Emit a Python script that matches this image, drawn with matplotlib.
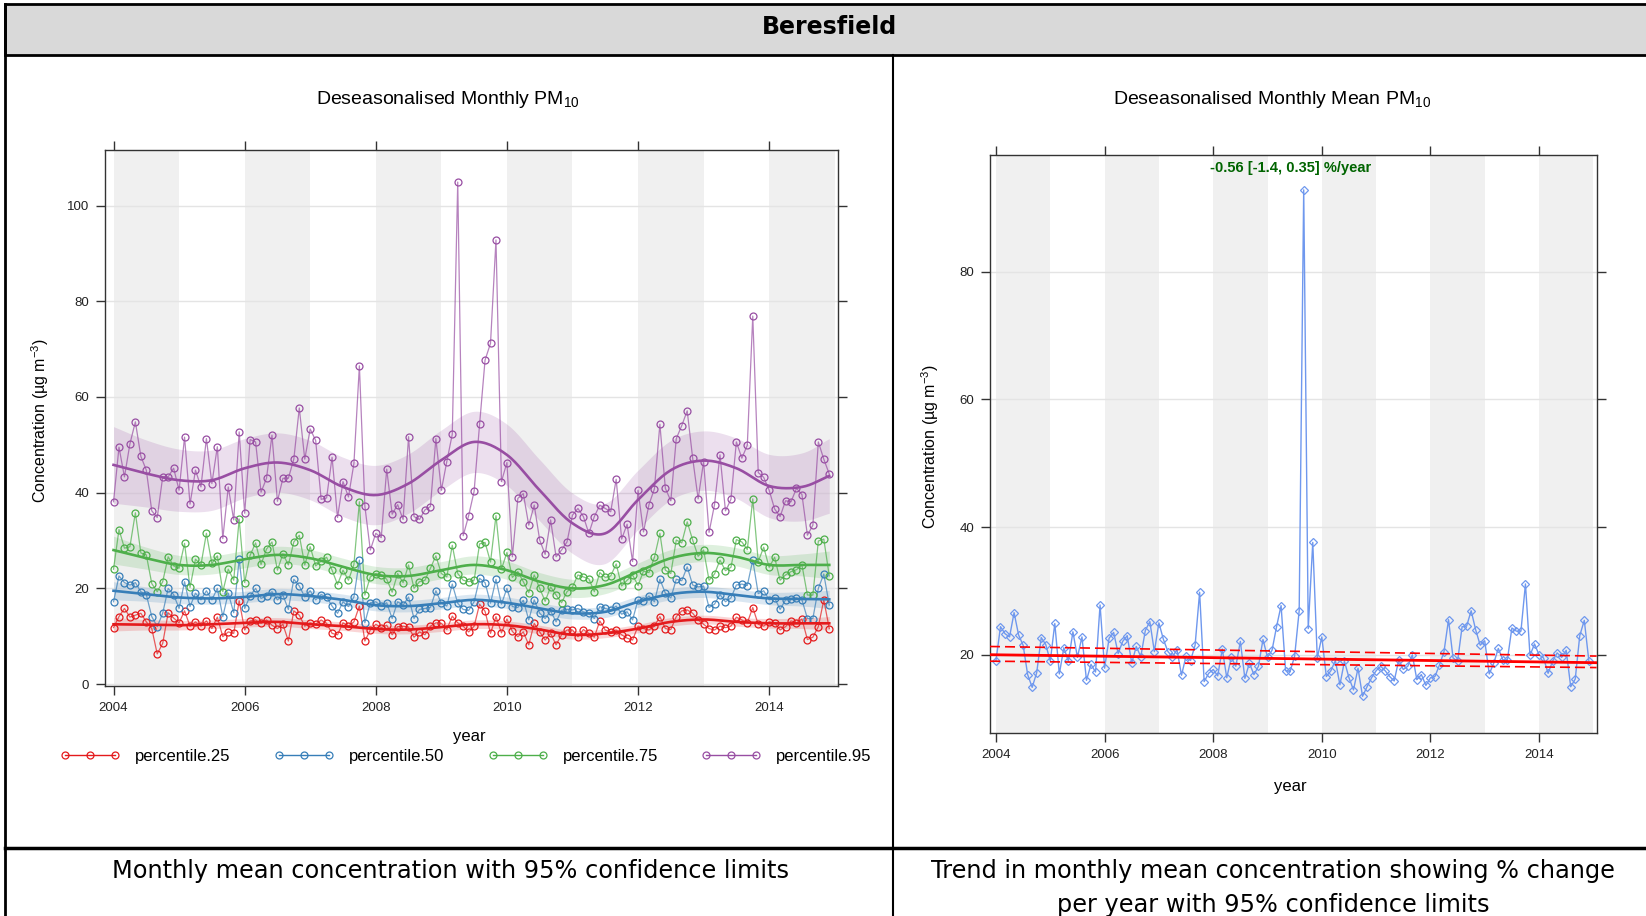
import numpy as np
import matplotlib
matplotlib.use("Agg")
import matplotlib.pyplot as plt
from matplotlib.patches import Rectangle
from matplotlib.lines import Line2D

# ---------------- data ----------------
start_year = 2004
n_months = 132

p25 = [11.8, 14.1, 15.8, 14.0, 14.4, 14.8, 13.0, 11.6, 6.3, 8.5, 14.9, 13.8,
       12.8, 15.3, 12.1, 13.0, 12.1, 13.2, 11.6, 14.0, 9.9, 10.9, 10.6, 17.4,
       11.3, 13.2, 13.4, 12.7, 13.4, 12.3, 11.6, 12.5, 9.0, 15.3, 14.4, 12.1,
       12.8, 12.5, 13.4, 12.7, 10.6, 10.3, 12.8, 12.1, 13.0, 16.3, 9.0, 11.3,
       12.5, 11.8, 12.3, 10.3, 12.0, 12.1, 11.9, 9.8, 10.9, 10.3, 12.1, 12.8,
       12.7, 11.4, 14.2, 12.8, 12.1, 10.9, 12.1, 16.7, 15.2, 10.6, 14.1, 10.7,
       13.6, 11.0, 9.9, 10.9, 8.2, 12.7, 10.9, 9.2, 10.6, 8.2, 10.3, 11.3,
       11.3, 9.9, 11.4, 10.6, 9.8, 13.2, 11.3, 10.9, 11.3, 10.3, 9.6, 9.2,
       12.1, 11.6, 11.3, 12.1, 14.1, 11.6, 11.4, 14.1, 15.3, 15.5, 14.8, 13.4,
       12.5, 11.6, 11.3, 12.1, 11.8, 12.1, 14.0, 13.4, 12.8, 16.0, 12.5, 12.1,
       13.0, 12.8, 11.3, 12.0, 13.2, 12.8, 13.6, 9.3, 9.8, 12.0, 17.6, 11.6]

p50 = [17.2, 22.6, 21.2, 20.7, 21.2, 19.3, 18.7, 14.1, 12.0, 14.8, 20.0, 18.7,
       15.8, 21.4, 16.2, 19.0, 17.6, 19.5, 17.6, 20.0, 14.1, 19.0, 14.9, 26.1,
       15.8, 18.4, 20.0, 17.9, 18.4, 19.3, 17.6, 18.6, 15.6, 21.9, 20.5, 18.2,
       19.5, 17.6, 18.7, 18.2, 16.3, 14.8, 17.2, 16.2, 18.2, 25.9, 12.8, 17.0,
       17.2, 16.3, 17.0, 13.7, 17.2, 16.5, 18.2, 13.7, 15.6, 15.8, 16.0, 19.5,
       16.9, 16.3, 20.9, 16.9, 15.6, 15.4, 17.2, 22.1, 21.2, 16.9, 21.9, 16.7,
       20.0, 16.2, 16.0, 17.5, 13.4, 17.6, 14.8, 13.7, 15.3, 13.0, 15.4, 15.6,
       15.5, 15.8, 15.1, 14.8, 13.7, 16.2, 15.8, 15.5, 16.3, 14.6, 15.1, 13.4,
       17.6, 17.4, 18.4, 17.2, 21.9, 19.0, 18.0, 21.9, 21.6, 24.5, 20.7, 20.3,
       20.5, 16.0, 16.7, 18.7, 17.2, 18.0, 20.7, 20.9, 20.6, 25.9, 18.9, 19.5,
       17.6, 18.0, 15.6, 17.6, 17.8, 18.0, 17.6, 13.7, 13.7, 20.0, 23.0, 16.5]

p75 = [24.0, 32.3, 28.4, 28.7, 35.8, 27.4, 27.0, 21.0, 19.3, 21.4, 26.6, 24.7,
       24.2, 29.4, 20.2, 26.1, 24.9, 31.5, 25.2, 26.8, 19.3, 24.0, 21.7, 34.5,
       21.2, 26.9, 29.5, 25.0, 28.2, 29.7, 23.8, 27.2, 24.9, 29.7, 31.1, 24.9,
       28.7, 24.7, 25.7, 26.5, 23.8, 20.8, 23.8, 21.7, 25.0, 38.1, 18.6, 22.4,
       23.1, 22.8, 21.9, 19.2, 23.1, 21.2, 24.9, 20.0, 21.4, 21.7, 24.2, 26.8,
       23.1, 22.4, 29.0, 23.1, 21.7, 21.4, 21.7, 29.3, 29.6, 25.5, 35.2, 24.0,
       27.5, 22.3, 23.5, 21.4, 19.1, 22.8, 20.0, 17.3, 20.3, 18.6, 17.0, 19.3,
       20.3, 22.8, 22.4, 22.0, 19.3, 23.3, 22.3, 22.6, 25.1, 20.5, 21.7, 22.8,
       20.6, 23.6, 23.3, 26.5, 31.5, 23.8, 23.1, 30.1, 29.5, 33.9, 30.1, 26.7,
       28.0, 21.7, 23.0, 25.9, 23.7, 24.4, 30.2, 29.7, 28.1, 38.7, 25.6, 28.6,
       24.4, 26.5, 21.7, 22.8, 23.5, 23.9, 24.9, 18.6, 18.6, 29.9, 30.3, 22.6]

p95 = [38.1, 49.5, 43.3, 50.2, 54.8, 47.6, 44.7, 36.2, 34.8, 43.3, 43.3, 45.1,
       40.5, 51.6, 37.6, 44.7, 41.2, 51.3, 41.9, 49.6, 30.4, 41.2, 34.3, 52.7,
       35.7, 51.1, 50.6, 40.1, 43.0, 52.0, 38.2, 43.0, 43.0, 47.0, 57.7, 47.0,
       53.3, 50.9, 38.6, 38.9, 47.4, 34.8, 42.3, 39.1, 46.1, 66.5, 37.2, 28.0,
       31.5, 30.6, 44.9, 35.5, 37.5, 34.4, 51.7, 35.0, 34.4, 36.4, 37.1, 51.3,
       40.5, 46.5, 52.2, 104.9, 31.0, 35.2, 40.3, 54.3, 67.7, 71.2, 92.8, 42.3,
       46.3, 26.6, 38.8, 39.8, 33.2, 37.4, 30.1, 27.1, 34.3, 26.6, 28.0, 29.7,
       35.3, 36.7, 35.0, 31.5, 35.0, 37.4, 36.7, 36.0, 42.8, 30.3, 33.4, 25.6,
       40.5, 31.8, 37.5, 40.8, 54.3, 40.9, 38.3, 51.3, 54.0, 57.1, 47.2, 38.7,
       46.5, 31.7, 37.5, 47.9, 36.2, 38.6, 50.6, 47.2, 49.9, 76.9, 44.2, 43.2,
       40.5, 36.6, 35.0, 38.3, 38.1, 40.9, 39.6, 31.1, 33.2, 50.6, 47.0, 43.9]

monthly_mean = [19.1, 24.4, 23.3, 22.8, 26.6, 23.1, 21.5, 16.9, 14.9, 17.2, 22.7, 21.6,
                19.0, 24.9, 17.0, 21.1, 19.0, 23.6, 19.6, 22.8, 16.0, 18.5, 17.3, 27.8,
                17.9, 22.6, 23.5, 20.2, 22.1, 23.0, 18.7, 21.3, 19.7, 23.8, 25.2, 20.5,
                25.0, 22.4, 20.5, 19.7, 20.8, 16.8, 19.8, 19.1, 21.5, 29.8, 15.8, 17.1,
                17.7, 16.7, 20.9, 16.4, 19.6, 18.2, 22.1, 16.3, 18.7, 16.9, 18.2, 22.4,
                19.6, 20.7, 24.4, 27.7, 17.5, 17.4, 19.8, 26.9, 92.8, 24.1, 37.6, 19.5,
                22.8, 16.6, 17.5, 19.1, 15.3, 19.0, 16.4, 14.5, 17.9, 13.5, 15.0, 16.4,
                17.5, 18.2, 17.5, 16.6, 15.9, 19.2, 17.7, 18.2, 20.0, 16.1, 16.9, 15.2,
                16.4, 16.6, 18.4, 20.5, 25.5, 19.5, 19.0, 24.4, 24.5, 26.9, 23.9, 21.5,
                22.2, 17.0, 18.7, 21.0, 19.2, 19.2, 24.2, 23.7, 23.7, 31.1, 19.9, 21.7,
                20.0, 19.5, 17.1, 19.0, 20.3, 19.6, 20.7, 15.0, 16.2, 23.0, 25.4, 19.1]

# smooth trend (read at half-year knots: months 0,6,...,126,131)
knot_months = list(range(0, 127, 6)) + [131]
smooth25 = [12.5, 12.4, 12.3, 12.5, 12.8, 13.0, 12.5, 12.1, 11.5, 11.4, 11.9, 12.5,
            12.3, 11.4, 10.3, 10.6, 11.6, 13.0, 13.5, 13.0, 12.7, 12.7, 12.7]
smooth50 = [19.5, 18.8, 18.1, 17.9, 18.2, 18.8, 18.4, 17.6, 16.5, 16.3, 16.9, 17.6,
            17.0, 15.8, 14.8, 15.1, 17.2, 18.8, 19.3, 18.6, 17.9, 17.8, 17.7]
smooth75 = [28.0, 26.3, 24.9, 24.9, 26.1, 27.0, 26.3, 24.5, 22.8, 22.6, 23.8, 24.9,
            23.8, 21.4, 20.0, 20.7, 23.5, 26.3, 27.4, 26.6, 24.9, 24.9, 24.9]
smooth95 = [45.8, 44.0, 42.6, 42.6, 45.1, 46.3, 44.7, 41.2, 39.5, 41.9, 46.8, 50.6,
            47.9, 40.5, 33.6, 31.5, 38.5, 44.7, 46.7, 45.1, 41.4, 41.2, 43.5]
halfw25 = [1.4, 1.1, 1.0, 0.9, 0.9, 0.9, 0.9, 0.9, 0.9, 0.9, 0.9, 0.9,
           0.9, 0.9, 0.9, 0.9, 0.9, 0.9, 0.9, 0.9, 1.0, 1.1, 1.4]
halfw50 = [1.9, 1.5, 1.3, 1.2, 1.2, 1.2, 1.2, 1.2, 1.2, 1.2, 1.2, 1.2,
           1.2, 1.2, 1.2, 1.2, 1.2, 1.2, 1.2, 1.2, 1.3, 1.5, 1.9]
halfw75 = [2.9, 2.3, 2.0, 1.9, 1.8, 1.8, 1.8, 1.8, 1.8, 1.8, 1.8, 1.9,
           1.9, 1.9, 1.9, 1.8, 1.8, 1.8, 1.8, 1.9, 2.0, 2.3, 2.9]
halfw95 = [8.0, 7.0, 6.5, 6.3, 6.2, 6.2, 6.2, 6.2, 6.2, 6.2, 6.3, 6.4,
           6.4, 6.4, 6.3, 6.3, 6.2, 6.2, 6.2, 6.3, 6.6, 7.1, 7.8]

series_names = ["percentile.25", "percentile.50", "percentile.75", "percentile.95"]
series_colors = ["#E41A1C", "#377EB8", "#4DAF4A", "#984EA3"]

# Theil-Sen trend (right panel)
trend_label = "-0.56 [-1.4, 0.35] %/year"
trend_start, trend_slope_pct = 20.0, -0.56
upper_ends = [21.3, 19.8]
lower_ends = [19.0, 18.0]

# ---------------- helpers ----------------
def catmull(t, v, n=16):
    t = np.asarray(t, float); v = np.asarray(v, float)
    tp = np.concatenate([[2 * t[0] - t[1]], t, [2 * t[-1] - t[-2]]])
    vp = np.concatenate([[2 * v[0] - v[1]], v, [2 * v[-1] - v[-2]]])
    xs, ys = [], []
    for k in range(1, len(t)):
        s = np.linspace(0, 1, n, endpoint=False)
        for P, out in ((tp, xs), (vp, ys)):
            p0, p1, p2, p3 = P[k - 1], P[k], P[k + 1], P[k + 2]
            out.append(0.5 * (2 * p1 + (-p0 + p2) * s + (2 * p0 - 5 * p1 + 4 * p2 - p3) * s ** 2
                              + (-p0 + 3 * p1 - 3 * p2 + p3) * s ** 3))
    xs.append([t[-1]]); ys.append([v[-1]])
    return np.concatenate(xs), np.concatenate(ys)

# ---------------- figure ----------------
plt.rcParams["font.family"] = ["Liberation Sans", "DejaVu Sans"]
plt.rcParams["mathtext.fontset"] = "custom"
plt.rcParams["mathtext.rm"] = "Liberation Sans"
plt.rcParams["mathtext.it"] = "Liberation Sans:italic"
plt.rcParams["mathtext.bf"] = "Liberation Sans:bold"

W, H = 1646, 916
fig = plt.figure(figsize=(W / 100, H / 100), dpi=100)
fig.patch.set_facecolor("white")

def fx(px):
    return px / W

def fy(py):
    return 1 - py / H

# frame / header
fig.patches.append(Rectangle((fx(5), fy(55)), 1.0, fy(4) - fy(55), transform=fig.transFigure,
                             facecolor="#d9d9d9", edgecolor="black", lw=2.0, zorder=0))
for xs_, ys_, lw_ in [([5, 5], [4, 916], 2.0), ([893, 893], [55, 916], 1.5),
                      ([5, 1646], [848, 848], 2.5)]:
    fig.add_artist(Line2D([fx(x) for x in xs_], [fy(y) for y in ys_], transform=fig.transFigure,
                          color="black", lw=lw_))
fig.text(fx(830), fy(27), "Beresfield", ha="center", va="center", fontsize=17,
         fontweight="bold", family=["DejaVu Sans"])
fig.text(fx(450), fy(871), "Monthly mean concentration with 95% confidence limits",
         ha="center", va="center", fontsize=17.3, family=["DejaVu Sans"])
fig.text(fx(1273), fy(871), "Trend in monthly mean concentration showing % change",
         ha="center", va="center", fontsize=17.3, family=["DejaVu Sans"])
fig.text(fx(1273), fy(905), "per year with 95% confidence limits",
         ha="center", va="center", fontsize=17.3, family=["DejaVu Sans"])

months = start_year + np.arange(n_months) / 12.0
knot_t = start_year + np.asarray(knot_months) / 12.0
year_ticks = list(range(2004, 2015, 2))


def style_axes(ax, yticks):
    for yr in range(2004, 2015, 2):
        ax.axvspan(yr, yr + 1, color="#f0f0f0", lw=0, zorder=0)
    ax.set_axisbelow(True)
    ax.yaxis.grid(True, color="#e4e4e4", lw=1.0)
    ax.set_xticks(year_ticks)
    ax.set_yticks(yticks)
    ax.tick_params(direction="out", length=6.5, width=1.0, top=True, right=True,
                   labeltop=False, labelright=False, labelsize=9.5, pad=5,
                   color="#333333", labelcolor="#222222")
    for s in ax.spines.values():
        s.set_color("#333333")
        s.set_linewidth(1.0)


# ----- left panel -----
axL = fig.add_axes([fx(105), fy(686), fx(838) - fx(105), fy(150) - fy(686)])
style_axes(axL, [0, 20, 40, 60, 80, 100])
axL.set_xlim(2003.87, 2015.05)
axL.set_ylim(-0.4, 111.6)

all_series = [p25, p50, p75, p95]
all_smooth = [smooth25, smooth50, smooth75, smooth95]
all_hw = [halfw25, halfw50, halfw75, halfw95]
handles = []
for vals, sm, hw, col, name in zip(all_series, all_smooth, all_hw, series_colors, series_names):
    sx, sy = catmull(knot_t, sm)
    _, hy = catmull(knot_t, hw)
    axL.fill_between(sx, sy - hy, sy + hy, color=col, alpha=0.18, lw=0, zorder=1.5)
    axL.plot(months, vals, color=col, lw=0.9, alpha=0.7, zorder=2)
    axL.plot(months, vals, ls="none", marker="o", ms=5, mfc="none", mec=col, mew=0.9, zorder=2.2)
    axL.plot(sx, sy, color=col, lw=1.9, zorder=3)
    handles.append(Line2D([], [], color=col, lw=1.0, marker="o", ms=5, mfc="none", mec=col, mew=0.9,
                          label=name))

fig.legend(handles=handles, loc="center", bbox_to_anchor=(fx(466), fy(756)), ncol=4,
           numpoints=3, frameon=False, fontsize=12, handlelength=3.6, handletextpad=0.9,
           columnspacing=2.6, borderaxespad=0)

fig.text(fx(448), fy(100), "Deseasonalised Monthly PM$_{\\mathrm{10}}$", ha="center", va="center",
         fontsize=14)
fig.text(fx(469), fy(737), "year", ha="center", va="center", fontsize=12)
fig.text(fx(40), fy(420), "Concentration (\u00b5g m$^{-3}$)", ha="center", va="center",
         rotation=90, fontsize=11.5)

# ----- right panel -----
axR = fig.add_axes([fx(990), fy(732.7), fx(1596.6) - fx(990), fy(155.4) - fy(732.7)])
style_axes(axR, [20, 40, 60, 80])
axR.set_xlim(2003.89, 2015.06)
axR.set_ylim(7.8, 98.2)

axR.plot(months, monthly_mean, color="#6F98EE", lw=1.0, zorder=2)
axR.plot(months, monthly_mean, ls="none", marker="D", ms=4.2, mfc="none", mec="#6F98EE",
         mew=0.9, zorder=2.2)

tx = np.array(axR.get_xlim())
trend = trend_start * (1 + trend_slope_pct / 100.0 * (tx - start_year))
axR.plot(tx, trend, color="red", lw=2.0, zorder=3)
axR.plot(tx, upper_ends, color="red", lw=1.2, ls=(0, (6, 3)), zorder=3)
axR.plot(tx, lower_ends, color="red", lw=1.2, ls=(0, (6, 3)), zorder=3)

axR.text(0.496, 0.978, trend_label, transform=axR.transAxes, ha="center", va="center",
         fontsize=10.5, fontweight="bold", color="#006400")

fig.text(fx(1272), fy(100), "Deseasonalised Monthly Mean PM$_{\\mathrm{10}}$", ha="center",
         va="center", fontsize=14)
fig.text(fx(1290), fy(786), "year", ha="center", va="center", fontsize=12)
fig.text(fx(930), fy(446), "Concentration (\u00b5g m$^{-3}$)", ha="center", va="center",
         rotation=90, fontsize=11.5)

fig.savefig("out.png", dpi=100)
